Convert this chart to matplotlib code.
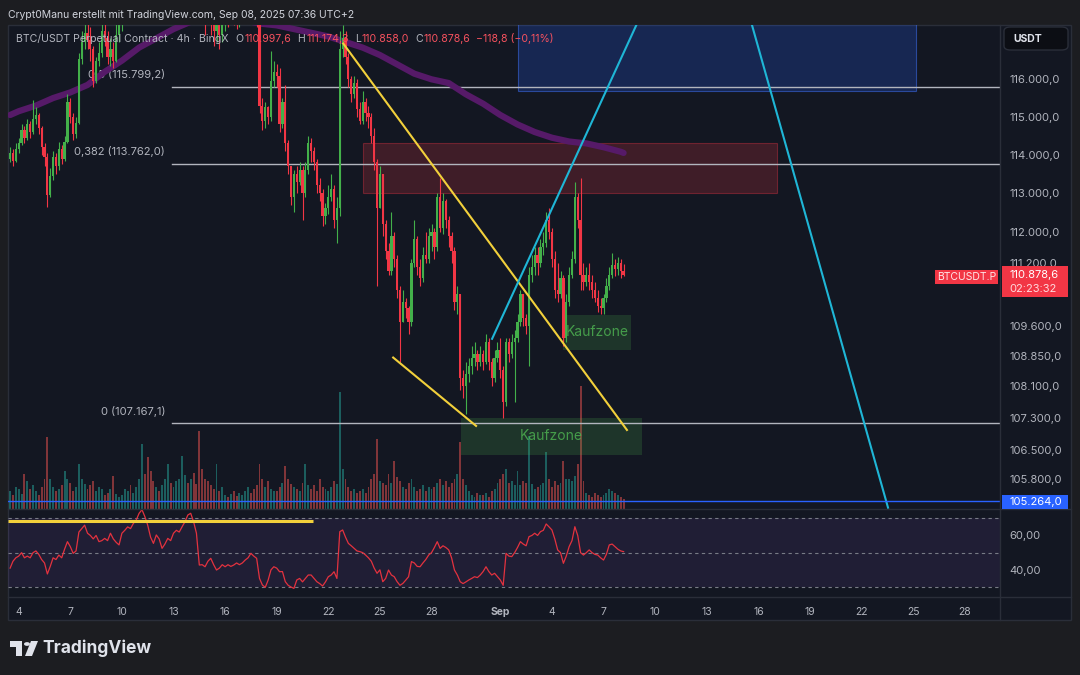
import numpy as np
import pandas as pd
import matplotlib
matplotlib.use("Agg")
import matplotlib.pyplot as plt
import matplotlib.dates as mdates
from matplotlib.patches import Rectangle, FancyBboxPatch, Polygon, Circle
from matplotlib.ticker import FixedLocator, NullLocator, FuncFormatter

plt.rcParams["font.family"] = ["Inter", "DejaVu Sans"]

# ---- data (4h candles, BTC/USDT perp) ----
first_open = 113900
closes = [
    114050, 113850, 114150,                                  # Aug 3
    114300, 114650, 114450, 114800, 114600, 114950,          # Aug 4
    115050, 114700, 114200, 113950, 112950, 113450,          # Aug 5
    113950, 113700, 114150, 113900, 114350, 115400,          # Aug 6
    115000, 114550, 114850, 116550, 117000, 117250,          # Aug 7
    117050, 116800, 115950, 116500, 116700, 117300,          # Aug 8
    117100, 116600, 116800, 116500, 117200, 117600,          # Aug 9
    118100, 118600, 119100, 118800, 119000, 119200,          # Aug 10
    120500, 121600, 121200, 120300, 119000, 118800,          # Aug 11
    119100, 118900, 119400, 120000, 120200, 120100,          # Aug 12
    120500, 121500, 122200, 122700, 123400, 123300,          # Aug 13
    123700, 123200, 121800, 118600, 118500, 118300,          # Aug 14
    118000, 117500, 117300, 117600, 117200, 117500,          # Aug 15
    117800, 117700, 117900, 117700, 117600, 117700,          # Aug 16
    117800, 118200, 118500, 118100, 117900, 117700,          # Aug 17
    115300, 114900, 115250, 115000, 115950, 116200,          # Aug 18
    116100, 114800, 115400, 114300, 113700, 112900,          # Aug 19
    113500, 113300, 113600, 113000, 113600, 114300,          # Aug 20
    114100, 113800, 113200, 113000, 112400, 112600,          # Aug 21
    112900, 113100, 112300, 112600, 116800, 117100,          # Aug 22
    116600, 116000, 115600, 115900, 115200, 114900,          # Aug 23
    115400, 115100, 115000, 114500, 113800, 112600,          # Aug 24
    113500, 112200, 111500, 111000, 111900, 111300,          # Aug 25
    110500, 109700, 110200, 110050, 109700, 111200,          # Aug 26
    111800, 111100, 110800, 111400, 111300, 111900,          # Aug 27
    112000, 111600, 112900, 112100, 112800, 112300,          # Aug 28
    111900, 111500, 110200, 110400, 108300, 108100,          # Aug 29
    108400, 108600, 108800, 108900, 108700, 108900,          # Aug 30
    108700, 109200, 108700, 108300, 108800, 109000,          # Aug 31
    108500, 107700, 109200, 108900, 109200, 109300,          # Sep 1
    109700, 110400, 109800, 109600, 110900, 111100,          # Sep 2
    111400, 111200, 111600, 111700, 112300, 112000,          # Sep 3
    111300, 110500, 110400, 110800, 109300, 110200,          # Sep 4
    110900, 111300, 112900, 112300, 110900, 110700,          # Sep 5
    110900, 110700, 110500, 110300, 110100, 110050,          # Sep 6
    110300, 110600, 110900, 111150, 111050, 111200,          # Sep 7
    110997.6, 110878.6,                                      # Sep 8
]
highs = [
    114200, 114150, 114300,
    114450, 114800, 114750, 114950, 114900, 115450,
    115250, 115100, 114750, 114300, 114050, 113650,
    114100, 114050, 114350, 114250, 114500, 115600,
    115500, 115100, 115000, 116700, 117300, 117500,
    117600, 117400, 116900, 116600, 117000, 117700,
    117800, 117300, 117100, 117000, 117500, 118000,
    118500, 119000, 119300, 119400, 119300, 119500,
    121000, 122300, 122000, 121400, 120400, 119300,
    119400, 119300, 119700, 120300, 120500, 120400,
    120800, 121900, 122600, 123200, 123800, 123700,
    124100, 124000, 123400, 121900, 119000, 118800,
    118400, 118200, 117800, 117900, 117700, 117800,
    118000, 118000, 118100, 118000, 117900, 117950,
    118100, 118500, 118700, 118600, 118300, 118100,
    117900, 115500, 115400, 115300, 116750, 116500,
    116400, 116300, 115500, 115850, 114400, 113700,
    113600, 113700, 113800, 113700, 113800, 114500,
    114450, 114200, 113900, 113400, 113100, 112750,
    113200, 113500, 113200, 112900, 117300, 117450,
    117300, 116700, 116100, 116100, 116000, 115400,
    115700, 115500, 115300, 115100, 114700, 113900,
    113700, 113500, 112300, 111700, 112500, 112000,
    111400, 110600, 110500, 110300, 110100, 111300,
    112300, 111900, 111300, 111600, 112000, 112100,
    112200, 112100, 113000, 113400, 113000, 112850,
    112400, 112000, 111600, 110600, 110400, 108500,
    108700, 108800, 109100, 109200, 109000, 109100,
    109000, 109400, 109300, 108800, 109000, 109200,
    109300, 108600, 109300, 109300, 109400, 109500,
    109900, 110500, 110400, 109900, 111100, 111400,
    111600, 111600, 111800, 112000, 112500, 112600,
    112100, 111500, 111200, 111000, 110900, 110400,
    111100, 111500, 113300, 113000, 113400, 111200,
    111100, 111200, 110900, 110700, 110500, 110300,
    110400, 110800, 111100, 111450, 111300, 111350,
    111300, 111174.3,
]
lows = [
    113800, 113700, 113800,
    114050, 114250, 114300, 114400, 114450, 114550,
    114800, 114550, 114000, 113700, 112650, 112900,
    113350, 113500, 113600, 113750, 113850, 114300,
    114850, 114400, 114450, 114800, 116400, 116800,
    116800, 116500, 115800, 115900, 116350, 116600,
    116900, 116400, 116350, 116300, 116450, 117000,
    117300, 117900, 118400, 118500, 118600, 118800,
    119100, 120400, 120800, 119900, 118600, 118400,
    118500, 118700, 118800, 119300, 119800, 119700,
    119900, 120300, 121300, 122100, 122500, 122900,
    123000, 122800, 121500, 117900, 117900, 117200,
    117500, 117200, 116900, 117000, 116800, 117000,
    117300, 117400, 117500, 117450, 117350, 117400,
    117500, 117700, 118000, 117800, 117600, 117400,
    115100, 114650, 114700, 114800, 114900, 115800,
    115800, 114600, 114700, 114100, 113500, 112700,
    112500, 113000, 113200, 112300, 112900, 113500,
    113800, 113600, 113000, 112800, 112150, 112200,
    112450, 112800, 112100, 111700, 112400, 116600,
    116400, 115800, 115400, 115500, 115000, 114800,
    114800, 114900, 114700, 114300, 113600, 110600,
    112600, 111900, 111300, 110900, 110900, 111100,
    110300, 108700, 109700, 109800, 109400, 109600,
    111100, 110900, 110600, 110700, 111200, 111200,
    111500, 111300, 111500, 112000, 111950, 112100,
    111600, 111200, 110000, 109900, 108000, 107800,
    107400, 108200, 108400, 108600, 108500, 108600,
    108500, 108650, 108500, 108100, 108200, 108700,
    108300, 107300, 107600, 108700, 108800, 107700,
    109200, 109600, 109600, 109400, 108600, 110700,
    110900, 110900, 111100, 111400, 111600, 111800,
    111100, 110300, 110200, 110300, 109100, 109200,
    110100, 110800, 111200, 112100, 110500, 110500,
    110600, 110500, 110300, 110200, 109950, 109900,
    109900, 110200, 110500, 110800, 110850, 110900,
    110800, 110858.0,
]
volumes = [
    18, 14, 22,
    20, 15, 35, 28, 20, 24,
    18, 14, 22, 30, 72, 30,
    22, 18, 20, 24, 38, 30,
    26, 18, 22, 45, 30, 25,
    20, 24, 28, 18, 22, 20,
    14, 16, 20, 33, 15, 12,
    14, 20, 18, 24, 16, 22,
    30, 65, 35, 52, 38, 28,
    22, 18, 24, 30, 45, 26,
    22, 28, 30, 53, 34, 26,
    30, 36, 25, 78, 40, 30,
    28, 24, 20, 45, 18, 22,
    14, 12, 15, 18, 13, 16,
    14, 18, 22, 16, 20, 24,
    45, 30, 22, 28, 20, 18,
    18, 22, 26, 43, 30, 25,
    22, 20, 18, 26, 45, 24,
    20, 24, 18, 30, 22, 20,
    18, 22, 28, 25, 117, 40,
    30, 22, 18, 20, 16, 18,
    20, 16, 22, 30, 35, 70,
    28, 26, 24, 35, 26, 48,
    32, 28, 22, 20, 26, 30,
    22, 18, 20, 24, 18, 22,
    20, 22, 26, 30, 24, 28,
    22, 26, 30, 35, 67, 30,
    24, 18, 14, 12, 16, 14,
    14, 16, 12, 18, 20, 26,
    30, 35, 40, 26, 28, 24,
    38, 24, 28, 26, 73, 25,
    20, 22, 24, 26, 57, 30,
    22, 28, 24, 26, 48, 30,
    30, 28, 33, 45, 123, 28,
    16, 14, 12, 16, 14, 12,
    14, 16, 20, 18, 16, 14,
    12, 10,
]
rsi = [
    41, 45, 47,
    48, 50, 47, 48, 47, 50,
    51, 49, 46, 44, 37.6, 42,
    47, 46, 48.6, 47, 52, 56.4,
    53.5, 49.6, 51, 62, 64, 66,
    61.3, 60, 58, 60, 56.4, 57,
    58.3, 57, 61.3, 58, 56, 54.5,
    61.3, 63, 65, 64, 67, 69,
    72.9, 75, 71, 66, 59, 55.4,
    60.3, 58, 52.5, 55, 58.3, 57,
    61.3, 63, 62, 65.1, 68, 71.9,
    72.9, 68, 61.3, 42.8, 43, 41.8,
    45, 46.7, 43, 39.9, 41, 43,
    41.8, 43, 42, 42.8, 44, 43,
    44, 45.7, 47, 49.6, 48, 46.7,
    35, 31.2, 29.8, 34, 40, 41.8,
    41, 38.9, 39, 33.1, 31, 30,
    29.2, 34.1, 35, 33, 35, 37,
    37, 35, 33.1, 32, 30.6, 33,
    36, 37, 38.9, 35, 62.2, 63.2,
    59, 55.4, 54, 52.5, 51, 50.6,
    50, 48.6, 47, 45, 41, 38,
    40, 33.1, 35, 39.9, 37, 36,
    33.1, 31, 32.1, 34, 36, 44.8,
    44, 42, 41.8, 44, 46, 48.6,
    50, 53, 56.4, 52.5, 54, 53,
    51.6, 47, 39.9, 37, 33.1, 32,
    33, 34.1, 35, 36, 35.5, 37,
    39, 41.8, 39, 37, 38, 36,
    34.1, 31, 49.6, 48, 47.7, 50,
    53, 56.4, 55, 54, 59.3, 60,
    61.3, 60, 62.2, 63, 66.7, 65,
    63.2, 58, 51.6, 50, 43.8, 48,
    53.5, 57, 65.1, 60, 50, 48.6,
    50, 51.6, 50, 49, 48.6, 47,
    45.7, 49, 54.5, 55, 53.5, 52,
    51, 50.6,
]
ma_dates = ["2025-08-03 12:00"] + [f"2025-08-{d:02d}" for d in range(4, 32)] + \
           [f"2025-09-{d:02d}" for d in range(1, 9)] + ["2025-09-08 04:00"]
ma_values = [115050, 115150, 115300, 115500, 115650, 115850, 116200, 116500,
             116850, 117100, 117350, 117550, 117750, 117750, 117600, 117500,
             117450, 117350, 117250, 117150, 117000, 116850, 116650, 116400,
             116150, 116000, 115900, 115600, 115350, 115050, 114800, 114600,
             114450, 114350, 114300, 114200, 114080, 114050]

# 110.400 sits under the last-price box, as in the reference
price_ticks = [116000, 115000, 114000, 113000, 112000, 111200,
               109600, 108850, 108100, 107300, 106500, 105800]
day_ticks = ["2025-08-04", "2025-08-07", "2025-08-10", "2025-08-13", "2025-08-16",
             "2025-08-19", "2025-08-22", "2025-08-25", "2025-08-28", "2025-09-01",
             "2025-09-04", "2025-09-07", "2025-09-10", "2025-09-13", "2025-09-16",
             "2025-09-19", "2025-09-22", "2025-09-25", "2025-09-28"]
day_labels = ["4", "7", "10", "13", "16", "19", "22", "25", "28", "Sep",
              "4", "7", "10", "13", "16", "19", "22", "25", "28"]

fib_levels = [115799.2, 113762.0, 107167.1]
fib_labels = ["0,5 (115.799,2)", "0,382 (113.762,0)", "0 (107.167,1)"]
fib_start = "2025-08-12 22:00"
red_zone = ("2025-08-24 00:15", "2025-09-17 02:10", 113000, 114310)
blue_zone = ("2025-09-02 00:40", "2025-09-25 04:00", 115690, 118500)
buy_zones = [("2025-09-04 15:35", "2025-09-08 14:10", 108990, 109870),
             ("2025-08-29 17:00", "2025-09-09 05:45", 106390, 107300)]
yellow_lines = [(("2025-08-22 20:50", 116960), ("2025-09-08 08:40", 107000)),
                (("2025-08-25 18:30", 108800), ("2025-08-30 14:10", 107100))]
cyan_lines = [(("2025-08-31 12:30", 109270), ("2025-09-09 13:55", 118140)),
              (("2025-09-15 05:15", 118140), ("2025-09-23 13:00", 105100))]
support_price = 105264.0
last_price = 110878.6
rsi_drawing = (("2025-08-03 09:20", 68.4), ("2025-08-21 02:40", 68.4))

# ---- colours ----
BG_OUT = "#1c1d21"
BG = "#131722"
SEP = "#2a2e39"
TXT = "#b2b5be"
UP = "#43b04a"
DOWN = "#f23645"
W, H = 1080, 675


def fx(px):
    return px / W


def fy(py):
    return 1 - py / H


def d2n(s):
    return mdates.date2num(pd.Timestamp(s))


def de(v, nd=1):
    s = f"{v:,.{nd}f}"
    return s.replace(",", "X").replace(".", ",").replace("X", ".")


closes = np.array(closes, float)
opens = np.r_[first_open, closes[:-1]]
highs = np.maximum(np.array(highs, float), np.maximum(opens, closes))
lows = np.minimum(np.array(lows, float), np.minimum(opens, closes))
dates = pd.date_range("2025-08-03 12:00", periods=len(closes), freq="4h")
xs = mdates.date2num(dates)
is_up = closes >= opens

xmin, xmax = d2n("2025-08-03 09:04"), d2n("2025-09-30 01:12")

fig = plt.figure(figsize=(W / 100, H / 100), dpi=100, facecolor=BG_OUT)
fig.patches.append(Rectangle((fx(8), fy(620)), fx(1071) - fx(8), fy(25) - fy(620),
                             transform=fig.transFigure, facecolor=BG,
                             edgecolor=SEP, lw=1, zorder=-10))

main_rect = [fx(8), fy(509), fx(1000) - fx(8), fy(25) - fy(509)]
ax_vol = fig.add_axes(main_rect)
ax = fig.add_axes(main_rect)
ax_rsi = fig.add_axes([fx(8), fy(597), fx(1000) - fx(8), fy(509) - fy(597)])
ax_vol.set_zorder(1)
ax.set_zorder(2)
ax_rsi.set_zorder(2)
for a in (ax_vol, ax, ax_rsi):
    a.patch.set_visible(False)
    for s in a.spines.values():
        s.set_visible(False)
    a.set_xlim(xmin, xmax)

# volume
vcols = [(38/255, 166/255, 154/255, 0.5) if u else (239/255, 83/255, 80/255, 0.5) for u in is_up]
ax_vol.bar(xs, volumes, width=0.11, color=vcols, linewidth=0)
ax_vol.set_ylim(0, 484)
ax_vol.set_xticks([])
ax_vol.set_yticks([])

# main price pane
ax.set_yscale("log")
ax.set_ylim(105070, 117460)

x0, x1, p0, p1 = red_zone
ax.add_patch(Rectangle((d2n(x0), p0), d2n(x1) - d2n(x0), p1 - p0,
                       facecolor=(0.95, 0.21, 0.27, 0.2), edgecolor=(0.95, 0.21, 0.27, 0.35),
                       lw=0.8, zorder=1))
x0, x1, p0, p1 = blue_zone
ax.add_patch(Rectangle((d2n(x0), p0), d2n(x1) - d2n(x0), p1 - p0,
                       facecolor=(0.16, 0.38, 1.0, 0.22), edgecolor=(0.25, 0.45, 1.0, 0.5),
                       lw=0.8, zorder=1))
for x0, x1, p0, p1 in buy_zones:
    ax.add_patch(Rectangle((d2n(x0), p0), d2n(x1) - d2n(x0), p1 - p0,
                           facecolor=(0.3, 0.69, 0.31, 0.2), edgecolor="none", zorder=1))
    ax.text((d2n(x0) + d2n(x1)) / 2, np.sqrt(p0 * p1), "Kaufzone", color="#4caf50",
            alpha=0.85, fontsize=10, ha="center", va="center", zorder=7)

for lvl, lab in zip(fib_levels, fib_labels):
    ax.plot([d2n(fib_start), xmax], [lvl, lvl], color="#b2b5be", lw=1, zorder=2)
    ax.annotate(lab, (d2n(fib_start), lvl), xytext=(-7, 12), textcoords="offset pixels",
                ha="right", va="center", color=TXT, fontsize=8, zorder=2)

ax.plot([d2n(d) for d in ma_dates], ma_values, color="#561a68", lw=4.5,
        solid_capstyle="round", zorder=3)

ccols = [UP if u else DOWN for u in is_up]
ax.vlines(xs, lows, highs, colors=ccols, lw=0.8, zorder=4)
body = np.maximum(np.abs(closes - opens), 12)
ax.bar(xs, body, bottom=np.minimum(opens, closes), width=0.13, color=ccols,
       linewidth=0, zorder=5)

for (a0, pa), (b0, pb) in yellow_lines:
    ax.plot([d2n(a0), d2n(b0)], [pa, pb], color="#f2d03b", lw=1.5, zorder=6)
for (a0, pa), (b0, pb) in cyan_lines:
    ax.plot([d2n(a0), d2n(b0)], [pa, pb], color="#1fb6d6", lw=1.5, zorder=6)
ax.axhline(support_price, color="#2962ff", lw=1, zorder=6)

ax.yaxis.tick_right()
ax.yaxis.set_major_locator(FixedLocator(price_ticks))
ax.yaxis.set_minor_locator(NullLocator())
ax.yaxis.set_major_formatter(FuncFormatter(lambda v, p: de(v)))
ax.tick_params(axis="y", length=0, pad=7, labelsize=8, colors=TXT)
ax.set_xticks([])

# RSI pane
ax_rsi.set_ylim(24.2, 75.4)
ax_rsi.axhspan(30, 70, color=(126/255, 87/255, 194/255, 0.12), lw=0, zorder=0)
for lvl in (70, 50, 30):
    ax_rsi.axhline(lvl, color="#787b86", lw=0.8, dashes=(3, 3), zorder=1)
ax_rsi.plot(xs, rsi, color="#e3323f", lw=0.9, zorder=3)
(a0, ra), (b0, rb) = rsi_drawing
ax_rsi.plot([d2n(a0), d2n(b0)], [ra, rb], color="#f2d03b", lw=2.2, zorder=4,
            solid_capstyle="butt")
ax_rsi.yaxis.tick_right()
ax_rsi.set_yticks([60, 40])
ax_rsi.set_yticklabels(["60,00", "40,00"])
ax_rsi.tick_params(axis="y", length=0, pad=7, labelsize=8, colors=TXT)
ax_rsi.set_xticks([d2n(d) for d in day_ticks])
ax_rsi.set_xticklabels(day_labels)
ax_rsi.tick_params(axis="x", length=0, pad=7, labelsize=7.5, colors=TXT)
for t in ax_rsi.get_xticklabels():
    if t.get_text() == "Sep":
        t.set_fontweight("bold")

# separators
for y in (509, 597):
    fig.add_artist(plt.Line2D([fx(8), fx(1071)], [fy(y), fy(y)], color=SEP, lw=1,
                              transform=fig.transFigure, zorder=5))
fig.add_artist(plt.Line2D([fx(1000), fx(1000)], [fy(25), fy(620)], color=SEP, lw=1,
                          transform=fig.transFigure, zorder=5))


def fig_box(x0, y0, x1, y1, color, edge="none", rounded=False):
    if rounded:
        p = FancyBboxPatch((fx(x0), fy(y1)), fx(x1) - fx(x0), fy(y0) - fy(y1),
                           boxstyle="round,pad=0,rounding_size=0.006",
                           transform=fig.transFigure, facecolor=color,
                           edgecolor=edge, lw=1, zorder=10)
    else:
        p = Rectangle((fx(x0), fy(y1)), fx(x1) - fx(x0), fy(y0) - fy(y1),
                      transform=fig.transFigure, facecolor=color, edgecolor=edge,
                      lw=1, zorder=10)
    fig.patches.append(p)


# price axis labels
fig_box(1004, 27, 1068, 50, "#0c0e14", edge=SEP, rounded=True)
fig.text(fx(1013), fy(38.5), "USDT", color="#e0e3eb", fontsize=7.5,
         fontweight="bold", va="center", zorder=11)
fig_box(1002, 266, 1068, 297, DOWN)
fig.text(fx(1009), fy(275), de(last_price), color="white", fontsize=8,
         va="center", zorder=11)
fig.text(fx(1009), fy(289), "02:23:32", color="#ffd9dc", fontsize=8,
         va="center", zorder=11)
fig_box(935, 270, 998, 284, DOWN)
fig.text(fx(966.5), fy(277), "BTCUSDT.P", color="#ffe5e7", fontsize=7.5,
         ha="center", va="center", zorder=11)
fig_box(1002, 495, 1068, 509, "#2962ff")
fig.text(fx(1009), fy(502), de(support_price), color="white", fontsize=8,
         va="center", zorder=11)

# header texts
fig.text(fx(8), fy(15), "Crypt0Manu erstellt mit TradingView.com, Sep 08, 2025 07:36 UTC+2",
         color="#d1d4dc", fontsize=7.5, va="center")
renderer = fig.canvas.get_renderer()
pieces = [("BTC/USDT Perpetual Contract · 4h · BingX", TXT, 0),
          ("O", TXT, 7), ("110.997,6", "#f7525f", 1),
          ("H", TXT, 6), ("111.174,3", "#f7525f", 1),
          ("L", TXT, 6), ("110.858,0", "#f7525f", 1),
          ("C", TXT, 6), ("110.878,6", "#f7525f", 1),
          ("\u2212118,8 (\u22120,11%)", "#f7525f", 6)]
xpos = 16
for s, c, gap in pieces:
    xpos += gap
    t = fig.text(fx(xpos), fy(39), s, color=c, fontsize=7.6, va="center", zorder=11)
    xpos += t.get_window_extent(renderer).width

# TradingView logo
logo = "#e0e3eb"
fig.patches.append(Polygon([(fx(10), fy(641)), (fx(22), fy(641)), (fx(22), fy(656)),
                            (fx(16), fy(656)), (fx(16), fy(647)), (fx(10), fy(647))],
                           closed=True, transform=fig.transFigure, facecolor=logo,
                           edgecolor="none"))
fig.patches.append(Circle((fx(27), fy(644)), 3 / W, transform=fig.transFigure,
                          facecolor=logo, edgecolor="none"))
fig.patches.append(Polygon([(fx(25), fy(656)), (fx(31), fy(641)), (fx(38), fy(641)),
                            (fx(32), fy(656))], closed=True, transform=fig.transFigure,
                           facecolor=logo, edgecolor="none"))
fig.text(fx(42), fy(648.5), "TradingView", color=logo, fontsize=12.5,
         fontweight="bold", va="center")

fig.savefig("out.png", dpi=100, facecolor=BG_OUT)
